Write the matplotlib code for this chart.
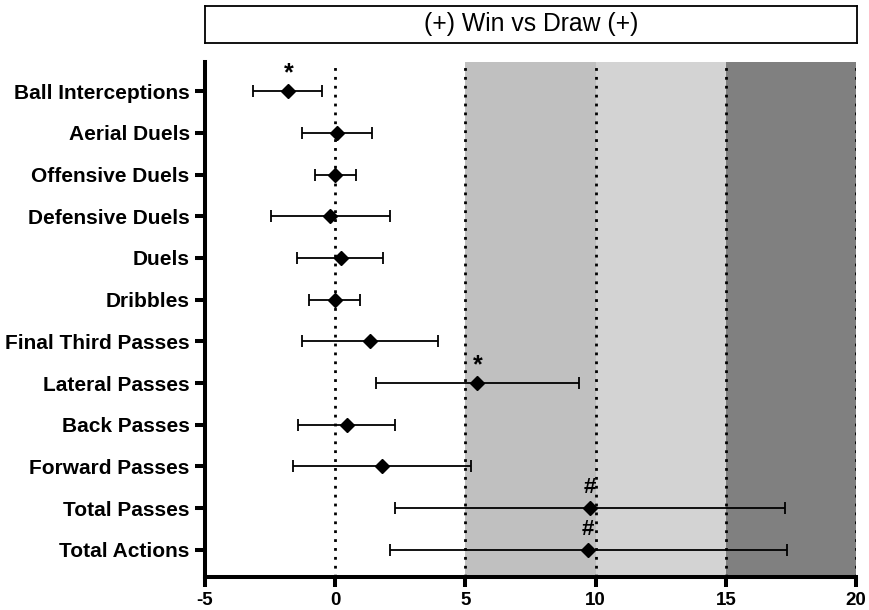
import matplotlib
matplotlib.use("Agg")
import matplotlib.pyplot as plt

plt.rcParams['font.family'] = ['Liberation Sans', 'DejaVu Sans']

categories = ["Ball Interceptions", "Aerial Duels", "Offensive Duels", "Defensive Duels",
              "Duels", "Dribbles", "Final Third Passes", "Lateral Passes", "Back Passes",
              "Forward Passes", "Total Passes", "Total Actions"]
means = [-1.8, 0.06, 0.01, -0.19, 0.22, -0.02, 1.34, 5.46, 0.44, 1.81, 9.77, 9.72]
lower = [-3.15, -1.28, -0.79, -2.46, -1.45, -1.0, -1.28, 1.55, -1.44, -1.63, 2.30, 2.12]
upper = [-0.5, 1.41, 0.81, 2.11, 1.84, 0.97, 3.93, 9.35, 2.30, 5.23, 17.29, 17.35]
marks = ["*", "", "", "", "", "", "", "*", "", "", "#", "#"]
bands = [(5, 10, "#c0c0c0"), (10, 15, "#d3d3d3"), (15, 20, "#808080")]
ref_lines = [0, 5, 10, 15, 20]
xticks = [-5, 0, 5, 10, 15, 20]
title = "(+) Win vs Draw (+)"

fig = plt.figure(figsize=(8.69, 6.10), dpi=100)
ax = fig.add_axes([205/869, 1-577/610, (856-205)/869, (577-62)/610])

for x0, x1, c in bands:
    ax.axvspan(x0, x1, color=c, zorder=0, lw=0)
for xv in ref_lines:
    ax.axvline(xv, color='black', linestyle=(0, (1, 2.2)), lw=2, zorder=1)

ypos = list(range(len(categories)))
xerr = [[m - l for m, l in zip(means, lower)], [u - m for m, u in zip(means, upper)]]
ax.errorbar(means, ypos, xerr=xerr, fmt='D', color='black', ms=6.8, ecolor='black',
            elinewidth=1.3, capsize=4.6, capthick=1.3, zorder=3)

for m, y, s in zip(means, ypos, marks):
    if s == '*':
        ax.annotate(s, (m, y), xytext=(0, 4), textcoords='offset points', ha='center',
                    va='bottom', fontsize=18, fontweight='bold')
    elif s:
        ax.annotate(s, (m, y), xytext=(0, 7), textcoords='offset points', ha='center',
                    va='bottom', fontsize=16, fontweight='bold')

ax.set_xlim(-5, 20)
ax.set_ylim(len(categories) - 1 + 0.65, -0.7)
ax.set_yticks(ypos)
ax.set_yticklabels(categories, fontsize=15, fontweight='bold')
ax.set_xticks(xticks)
ax.set_xticklabels([str(t) for t in xticks], fontsize=13.5, fontweight='bold')
for s in ['top', 'right']:
    ax.spines[s].set_visible(False)
for s in ['left', 'bottom']:
    ax.spines[s].set_linewidth(2.9)
ax.tick_params(axis='both', direction='out', length=7.5, width=2.9)
ax.tick_params(axis='y', pad=3.5)
ax.tick_params(axis='x', pad=3.5)

tax = fig.add_axes([205/869, 1-43/610, (857-205)/869, (43-6)/610])
tax.set_xticks([])
tax.set_yticks([])
for s in tax.spines.values():
    s.set_linewidth(1.3)
tax.text(0.5, 0.5, title, ha='center', va='center', fontsize=17.8, transform=tax.transAxes)

fig.savefig("out.png", dpi=100)
